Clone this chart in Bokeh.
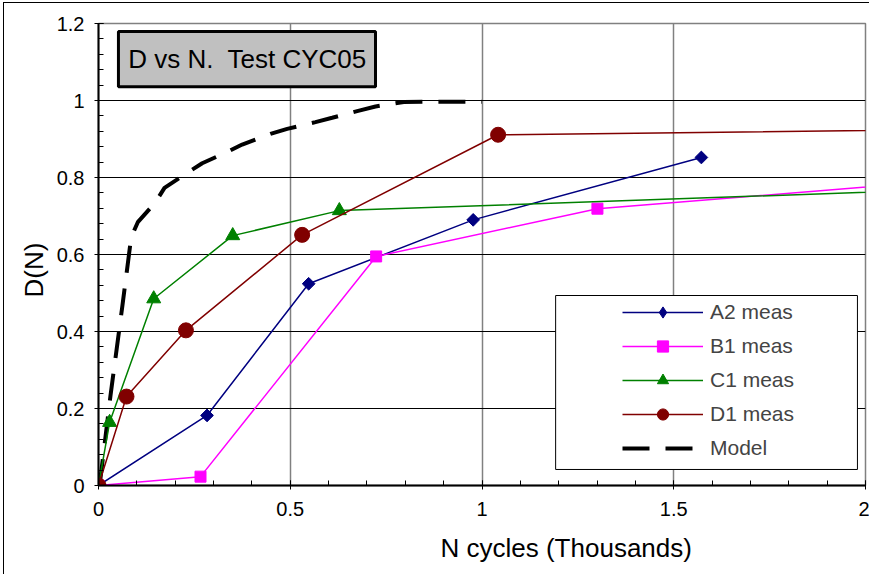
import math
import numpy as np
from bokeh.plotting import figure
from bokeh.models import (FixedTicker, CustomJSTickFormatter, Legend, LegendItem,
                          BoxAnnotation, Label, Range1d, Title)
from bokeh.embed import file_html
from bokeh.resources import INLINE

# ---- data (N in thousands of cycles, D) ----
a2_x = [0.0, 0.283, 0.548, 0.977, 1.572]
a2_y = [0.0, 0.182, 0.524, 0.690, 0.852]

b1_x = [0.0, 0.266, 0.724, 1.301, 2.6]
b1_y = [0.0, 0.023, 0.595, 0.719, 0.823]

c1_x = [0.0, 0.029, 0.144, 0.350, 0.628, 2.5]
c1_y = [0.0, 0.164, 0.485, 0.649, 0.714, 0.779]

d1_x = [0.0, 0.073, 0.228, 0.531, 1.042, 2.6]
d1_y = [0.0, 0.231, 0.403, 0.651, 0.911, 0.929]

model_x = [0.0, 0.0034, 0.0313, 0.0618, 0.0853, 0.1025, 0.1486, 0.1721, 0.2313, 0.2704,
           0.3399, 0.3747, 0.4485, 0.4920, 0.5658, 0.6093, 0.6745, 0.7223, 0.7961, 0.85, 1.0]
model_y = [0.0, 0.0044, 0.2338, 0.4631, 0.6449, 0.6839, 0.7358, 0.7732, 0.8122, 0.8371,
           0.8683, 0.8857, 0.9134, 0.9264, 0.9437, 0.9551, 0.9723, 0.9844, 0.9960, 0.997, 0.997]

x_ticks = [0, 0.5, 1, 1.5, 2]
y_ticks = [0, 0.2, 0.4, 0.6, 0.8, 1.0, 1.2]

title_text = "D vs N.\u00a0 Test CYC05"
x_label = "N cycles (Thousands)"
y_label = "D(N)"

FONT = "Liberation Sans"

p = figure(width=866, height=572, output_backend="svg", toolbar_location=None,
           x_range=Range1d(0, 2), y_range=Range1d(0, 1.2),
           min_border_left=94, min_border_right=5, min_border_top=20, min_border_bottom=90)
p.styles = {"border-left": "1px solid black", "border-top": "1px solid black",
            "margin-left": "3px", "margin-top": "2px"}

p.background_fill_color = "white"
p.border_fill_color = "white"
p.outline_line_color = "#808080"
p.outline_line_width = 1.5

fmt = CustomJSTickFormatter(code="return (Math.round(tick*10)/10).toString();")
p.xaxis.ticker = FixedTicker(ticks=x_ticks, minor_ticks=[float(v) for v in np.arange(0, 2.001, 0.1)])
p.yaxis.ticker = FixedTicker(ticks=y_ticks, minor_ticks=[float(v) for v in np.arange(0, 1.2001, 0.04)])
for ax in (p.xaxis, p.yaxis):
    ax.formatter = fmt
    ax.major_label_text_font = FONT
    ax.major_label_text_font_size = "20px"
    ax.major_label_text_color = "black"
    ax.axis_line_color = "black"
    ax.axis_line_width = 2
    ax.major_tick_in = 5
    ax.major_tick_out = 4
    ax.minor_tick_in = 5
    ax.minor_tick_out = 0
    ax.major_tick_line_color = "black"
    ax.minor_tick_line_color = "black"
p.xaxis.major_label_standoff = 12
p.yaxis.major_label_standoff = 10

p.xgrid.grid_line_color = "#808080"
p.xgrid.grid_line_width = 1.5
p.ygrid.grid_line_color = "black"
p.ygrid.grid_line_width = 1

# series
rm = p.line(model_x, model_y, line_color="black", line_width=4, line_dash="27 16")

la = p.line(a2_x, a2_y, line_color="#000080", line_width=1.5)
# diamond key for the legend (hidden under the rotated squares in the plot)
sa_key = p.scatter(a2_x, a2_y, marker="diamond", size=11,
                   fill_color="#000080", line_color="#000080")
sa = p.scatter(a2_x, a2_y, marker="square", angle=math.pi / 4, size=9,
               fill_color="#000080", line_color="#000080")
lb = p.line(b1_x, b1_y, line_color="#FF00FF", line_width=1.5)
sb = p.scatter(b1_x, b1_y, marker="square", size=11, fill_color="#FF00FF", line_color="#FF00FF")
lc = p.line(c1_x, c1_y, line_color="#008000", line_width=1.5)
sc = p.scatter(c1_x, c1_y, marker="triangle", size=14, fill_color="#008000", line_color="#008000")
ld = p.line(d1_x, d1_y, line_color="#800000", line_width=1.5)
sd = p.scatter(d1_x, d1_y, marker="circle", size=15, fill_color="#800000", line_color="#800000")

# legend frame
p.add_layout(BoxAnnotation(left=1.192, right=1.979, bottom=0.0416, top=0.4935,
                           fill_color="white", fill_alpha=1, line_color="black",
                           line_width=1, line_alpha=1))

legend = Legend(items=[LegendItem(label="A2 meas", renderers=[la, sa_key]),
                       LegendItem(label="B1 meas", renderers=[lb, sb]),
                       LegendItem(label="C1 meas", renderers=[lc, sc]),
                       LegendItem(label="D1 meas", renderers=[ld, sd]),
                       LegendItem(label="Model", renderers=[rm])],
                location="bottom_right", margin=23, padding=0,
                glyph_width=81, glyph_height=28, label_standoff=7, label_width=132,
                spacing=6, label_text_font=FONT, label_text_font_size="21px",
                border_line_color=None, background_fill_alpha=0)
p.add_layout(legend)

# title box
p.add_layout(BoxAnnotation(left=0.052, right=0.7223, bottom=1.036, top=1.179,
                           fill_color="#c0c0c0", fill_alpha=1, line_color="black",
                           line_width=3, line_alpha=1))
p.add_layout(Label(x=0.3885, y=1.1075, text=title_text, text_align="center",
                   text_baseline="middle", text_font=FONT, text_font_size="26px",
                   text_color="black"))

# axis labels as side titles
p.add_layout(Title(text=x_label, align="left", offset=342, standoff=24,
                   text_font=FONT, text_font_size="26px", text_font_style="normal",
                   text_color="black"), "below")
p.add_layout(Title(text=y_label, align="left", offset=188, standoff=9,
                   text_font=FONT, text_font_size="26px", text_font_style="normal",
                   text_color="black"), "left")

open("out.html", "w").write(file_html(p, INLINE))
